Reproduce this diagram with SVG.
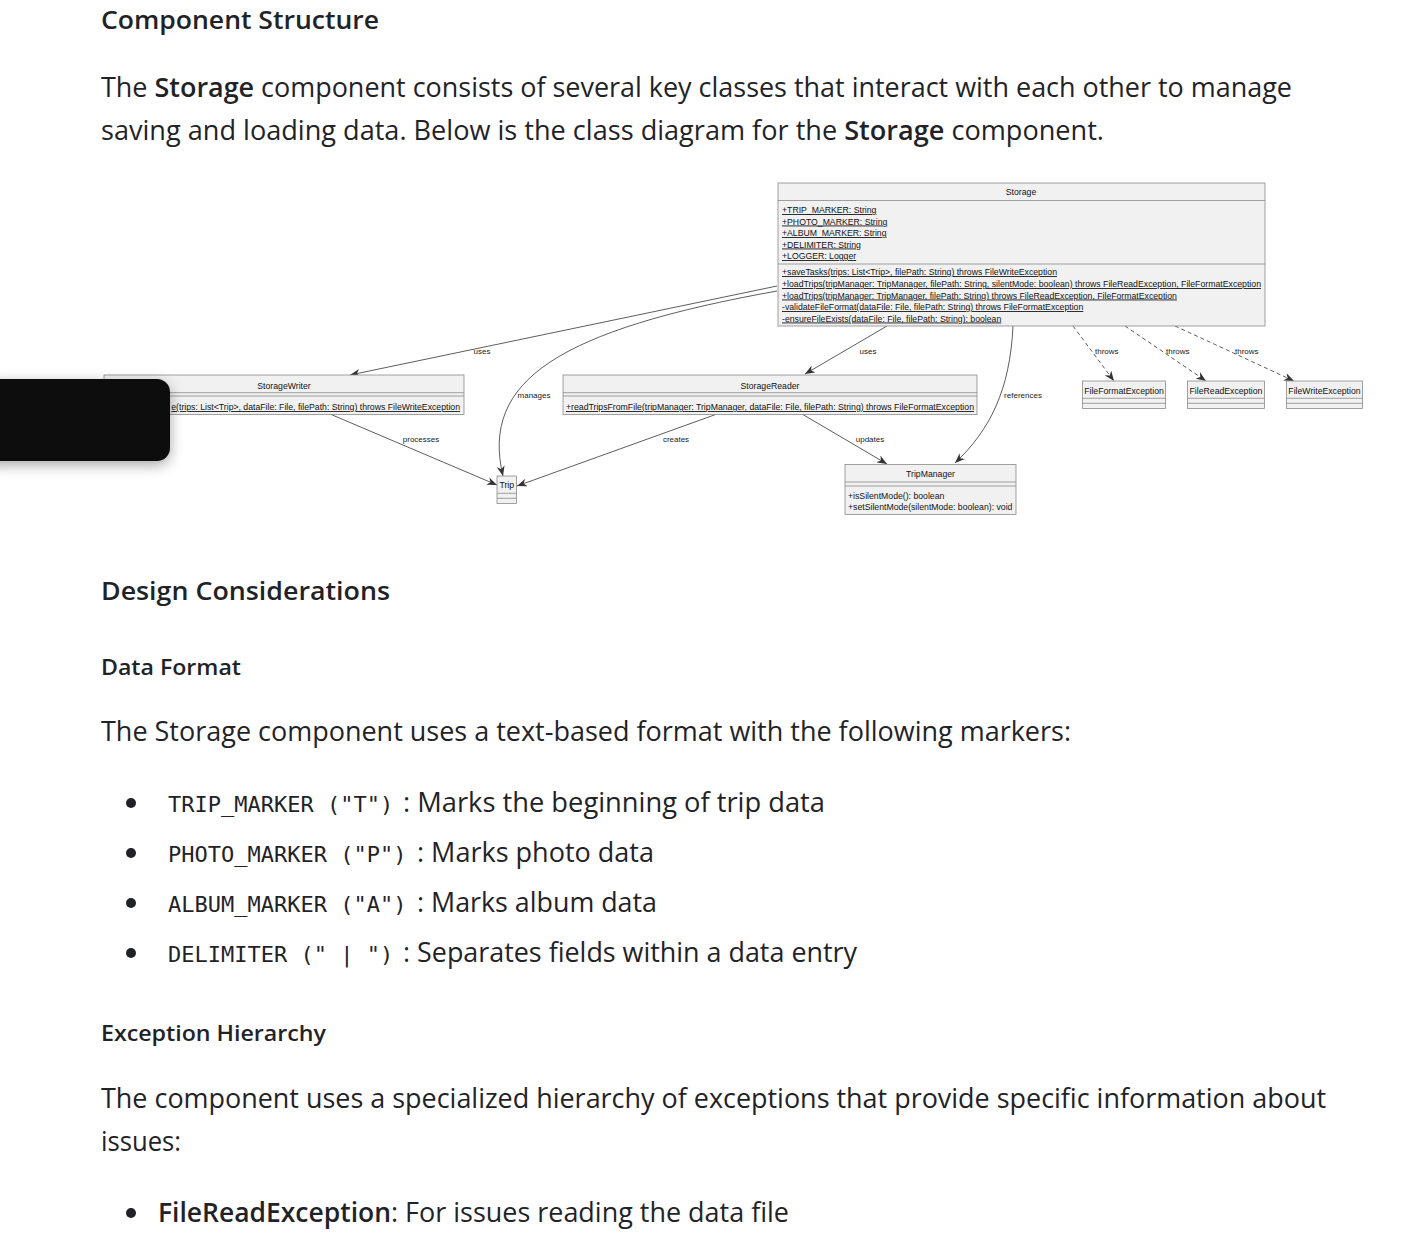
<svg xmlns="http://www.w3.org/2000/svg" width="1418" height="1244" viewBox="0 0 1418 1244">
<style>
.h{font-family:"Open Sans","Noto Sans","Liberation Sans",sans-serif;font-weight:600;fill:#1f2328}
.p{font-family:"Open Sans","Noto Sans","Liberation Sans",sans-serif;font-size:27px;fill:#1f2328}
.b{font-weight:600}
.m{font-family:"DejaVu Sans Mono","Liberation Mono",monospace;font-size:22px;fill:#1f2328}
.box{fill:#f1f1f1;stroke:#8a8a8a;stroke-width:0.8}
.sep{stroke:#8a8a8a;stroke-width:0.8}
.t{font-family:"Liberation Sans",Arial,sans-serif;font-size:8.7px;fill:#111}
.u{text-decoration:underline}
.lbl{font-family:"Liberation Sans",Arial,sans-serif;font-size:8px;fill:#222}
.c{fill:none;stroke:#333;stroke-width:0.8}
.d{fill:none;stroke:#333;stroke-width:0.8;stroke-dasharray:4,3}
</style>
<defs>
<marker id="ah" markerUnits="userSpaceOnUse" markerWidth="10" markerHeight="8" viewBox="0 0 10 8" refX="10" refY="4" orient="auto">
<path d="M0,0 L10,4 L0,8 L3,4 z" fill="#333"/>
</marker>
<filter id="sh" x="-30%" y="-40%" width="160%" height="180%">
<feGaussianBlur in="SourceAlpha" stdDeviation="7"/>
<feOffset dx="0" dy="4" result="o"/>
<feComponentTransfer><feFuncA type="linear" slope="0.35"/></feComponentTransfer>
<feMerge><feMergeNode/><feMergeNode in="SourceGraphic"/></feMerge>
</filter>
</defs>
<rect width="1418" height="1244" fill="#ffffff"/>

<g id="text">
<text class="h" x="101" y="29" font-size="26" textLength="278" lengthAdjust="spacingAndGlyphs">Component Structure</text>
<text class="p" x="101" y="97" textLength="1191" lengthAdjust="spacingAndGlyphs">The <tspan class="b">Storage</tspan> component consists of several key classes that interact with each other to manage</text>
<text class="p" x="101" y="140" textLength="1003" lengthAdjust="spacingAndGlyphs">saving and loading data. Below is the class diagram for the <tspan class="b">Storage</tspan> component.</text>
<text class="h" x="101" y="600" font-size="26" textLength="289" lengthAdjust="spacingAndGlyphs">Design Considerations</text>
<text class="h" x="101" y="675" font-size="22" textLength="140" lengthAdjust="spacingAndGlyphs">Data Format</text>
<text class="p" x="101" y="741" textLength="970" lengthAdjust="spacingAndGlyphs">The Storage component uses a text-based format with the following markers:</text>
<circle cx="131" cy="803" r="5" fill="#1f2328"/>
<text class="m" x="168" y="812">TRIP_MARKER ("T")</text>
<text class="p" x="403" y="812" textLength="422" lengthAdjust="spacingAndGlyphs">: Marks the beginning of trip data</text>
<circle cx="131" cy="853" r="5" fill="#1f2328"/>
<text class="m" x="168" y="862">PHOTO_MARKER ("P")</text>
<text class="p" x="417" y="862" textLength="237" lengthAdjust="spacingAndGlyphs">: Marks photo data</text>
<circle cx="131" cy="903" r="5" fill="#1f2328"/>
<text class="m" x="168" y="912">ALBUM_MARKER ("A")</text>
<text class="p" x="417" y="912" textLength="240" lengthAdjust="spacingAndGlyphs">: Marks album data</text>
<circle cx="131" cy="953" r="5" fill="#1f2328"/>
<text class="m" x="168" y="962">DELIMITER (" | ")</text>
<text class="p" x="403" y="962" textLength="454" lengthAdjust="spacingAndGlyphs">: Separates fields within a data entry</text>
<text class="h" x="101" y="1041" font-size="22" textLength="225" lengthAdjust="spacingAndGlyphs">Exception Hierarchy</text>
<text class="p" x="101" y="1108" textLength="1225" lengthAdjust="spacingAndGlyphs">The component uses a specialized hierarchy of exceptions that provide specific information about</text>
<text class="p" x="101" y="1151" textLength="80" lengthAdjust="spacingAndGlyphs">issues:</text>
<circle cx="131" cy="1213" r="5" fill="#1f2328"/>
<text class="p" x="158" y="1222"><tspan class="b" textLength="233" lengthAdjust="spacingAndGlyphs">FileReadException</tspan></text>
<text class="p" x="391" y="1222" textLength="398" lengthAdjust="spacingAndGlyphs">: For issues reading the data file</text>
</g>

<g id="connectors">
<path class="c" d="M777,286 L350,375" marker-end="url(#ah)"/>
<text class="lbl" x="482" y="354" text-anchor="middle">uses</text>
<path class="c" d="M777,291 C560,330 480,380 503,476" marker-end="url(#ah)"/>
<text class="lbl" x="534" y="398" text-anchor="middle">manages</text>
<path class="c" d="M887,326 L805,374" marker-end="url(#ah)"/>
<text class="lbl" x="868" y="354" text-anchor="middle">uses</text>
<path class="c" d="M1013,326 C1010,390 990,430 955,463" marker-end="url(#ah)"/>
<text class="lbl" x="1023" y="398" text-anchor="middle">references</text>
<path class="c" d="M330,414 L497,485" marker-end="url(#ah)"/>
<text class="lbl" x="421" y="442" text-anchor="middle">processes</text>
<path class="c" d="M717,414 L517,486" marker-end="url(#ah)"/>
<text class="lbl" x="676" y="442" text-anchor="middle">creates</text>
<path class="c" d="M802,414 L887,464" marker-end="url(#ah)"/>
<text class="lbl" x="870" y="442" text-anchor="middle">updates</text>
<path class="d" d="M1073,326 L1114,381" marker-end="url(#ah)"/>
<text class="lbl" x="1095" y="354">throws</text>
<path class="d" d="M1125,326 L1206,381" marker-end="url(#ah)"/>
<text class="lbl" x="1166" y="354">throws</text>
<path class="d" d="M1175,326 L1294,381" marker-end="url(#ah)"/>
<text class="lbl" x="1235" y="354">throws</text>
</g>

<g id="Storage">
<rect class="box" x="778" y="183" width="487" height="143"/>
<text class="t" x="1021" y="195" text-anchor="middle">Storage</text>
<line class="sep" x1="778" y1="200.5" x2="1265" y2="200.5"/>
<text class="t u" x="782" y="213">+TRIP_MARKER: String</text>
<text class="t u" x="782" y="224.5">+PHOTO_MARKER: String</text>
<text class="t u" x="782" y="236">+ALBUM_MARKER: String</text>
<text class="t u" x="782" y="247.5">+DELIMITER: String</text>
<text class="t u" x="782" y="259">+LOGGER: Logger</text>
<line class="sep" x1="778" y1="264" x2="1265" y2="264"/>
<text class="t u" x="782" y="275">+saveTasks(trips: List&lt;Trip&gt;, filePath: String) throws FileWriteException</text>
<text class="t u" x="782" y="287" textLength="479" lengthAdjust="spacingAndGlyphs">+loadTrips(tripManager: TripManager, filePath: String, silentMode: boolean) throws FileReadException, FileFormatException</text>
<text class="t u" x="782" y="298.5">+loadTrips(tripManager: TripManager, filePath: String) throws FileReadException, FileFormatException</text>
<text class="t u" x="782" y="310">-validateFileFormat(dataFile: File, filePath: String) throws FileFormatException</text>
<text class="t u" x="782" y="321.5">-ensureFileExists(dataFile: File, filePath: String): boolean</text>
</g>

<g id="StorageWriter">
<rect class="box" x="104" y="375" width="360" height="39.5"/>
<text class="t" x="284" y="388.5" text-anchor="middle">StorageWriter</text>
<line class="sep" x1="104" y1="392.7" x2="464" y2="392.7"/>
<line class="sep" x1="104" y1="396" x2="464" y2="396"/>
<text class="t u" x="460" y="410" text-anchor="end">e(trips: List&lt;Trip&gt;, dataFile: File, filePath: String) throws FileWriteException</text>
</g>

<g id="StorageReader">
<rect class="box" x="563" y="375" width="414" height="39.5"/>
<text class="t" x="770" y="388.5" text-anchor="middle">StorageReader</text>
<line class="sep" x1="563" y1="392.7" x2="977" y2="392.7"/>
<line class="sep" x1="563" y1="396" x2="977" y2="396"/>
<text class="t u" x="566" y="410" textLength="408" lengthAdjust="spacingAndGlyphs">+readTripsFromFile(tripManager: TripManager, dataFile: File, filePath: String) throws FileFormatException</text>
</g>

<g id="Trip">
<rect class="box" x="497" y="476" width="19.5" height="27.5"/>
<text class="t" x="506.8" y="488" text-anchor="middle">Trip</text>
<line class="sep" x1="497" y1="493.3" x2="516.5" y2="493.3"/>
<line class="sep" x1="497" y1="498.3" x2="516.5" y2="498.3"/>
</g>

<g id="TripManager">
<rect class="box" x="845" y="464.5" width="171" height="50"/>
<text class="t" x="930.5" y="477" text-anchor="middle">TripManager</text>
<line class="sep" x1="845" y1="482" x2="1016" y2="482"/>
<line class="sep" x1="845" y1="486" x2="1016" y2="486"/>
<text class="t" x="848" y="498.5">+isSilentMode(): boolean</text>
<text class="t" x="848" y="509.5">+setSilentMode(silentMode: boolean): void</text>
</g>

<g id="FileFormatException">
<rect class="box" x="1082.5" y="381" width="83" height="27.5"/>
<text class="t" x="1124" y="393.5" text-anchor="middle">FileFormatException</text>
<line class="sep" x1="1082.5" y1="398.3" x2="1165.5" y2="398.3"/>
<line class="sep" x1="1082.5" y1="403.3" x2="1165.5" y2="403.3"/>
</g>

<g id="FileReadException">
<rect class="box" x="1187.5" y="381" width="77" height="27.5"/>
<text class="t" x="1226" y="393.5" text-anchor="middle">FileReadException</text>
<line class="sep" x1="1187.5" y1="398.3" x2="1264.5" y2="398.3"/>
<line class="sep" x1="1187.5" y1="403.3" x2="1264.5" y2="403.3"/>
</g>

<g id="FileWriteException">
<rect class="box" x="1286.5" y="381" width="76" height="27.5"/>
<text class="t" x="1324.5" y="393.5" text-anchor="middle">FileWriteException</text>
<line class="sep" x1="1286.5" y1="398.3" x2="1362.5" y2="398.3"/>
<line class="sep" x1="1286.5" y1="403.3" x2="1362.5" y2="403.3"/>
</g>

<g id="overlay">
<rect x="-20" y="379" width="190" height="82" rx="13" fill="#0e0e0e" filter="url(#sh)"/>
</g>
</svg>
